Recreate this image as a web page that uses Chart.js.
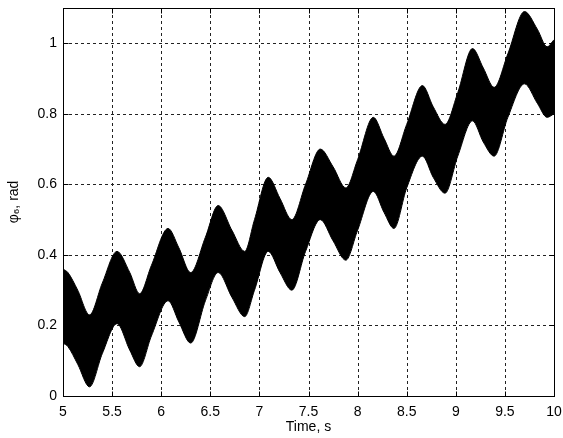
<!DOCTYPE html>
<html>
<head>
<meta charset="utf-8">
<script src="https://cdn.jsdelivr.net/npm/chart.js@4/dist/chart.umd.min.js"></script>
<style>
  html, body { margin: 0; padding: 0; background: #fff; }
  #wrap { width: 563px; height: 438px; }
</style>
</head>
<body>
<div id="wrap"><canvas id="c" width="563" height="438"></canvas></div>
<script>
// Time axis samples (s) where the band envelope was read
const time = [5.00,5.05,5.15,5.27,5.40,5.55,5.68,5.78,5.90,6.07,
              6.18,6.30,6.45,6.58,6.72,6.85,6.95,7.09,7.21,7.33,
              7.47,7.62,7.75,7.88,8.00,8.16,8.27,8.37,8.50,8.66,
              8.77,8.89,9.02,9.17,9.28,9.39,9.53,9.70,9.83,9.93,10.00];
// Upper envelope of the oscillating phi6 signal (rad)
const upperEnv = [0.36,0.35,0.30,0.23,0.32,0.41,0.35,0.29,0.37,0.475,
                  0.42,0.35,0.45,0.54,0.47,0.41,0.50,0.62,0.56,0.50,
                  0.60,0.70,0.65,0.59,0.67,0.79,0.73,0.68,0.77,0.88,
                  0.82,0.77,0.86,0.985,0.93,0.875,0.97,1.09,1.04,0.99,1.01];
// Lower envelope of the oscillating phi6 signal (rad)
const lowerEnv = [0.15,0.14,0.09,0.026,0.12,0.205,0.13,0.083,0.17,0.27,
                  0.21,0.15,0.27,0.35,0.28,0.225,0.30,0.41,0.35,0.30,
                  0.41,0.50,0.44,0.385,0.47,0.58,0.52,0.475,0.59,0.68,
                  0.62,0.575,0.68,0.78,0.72,0.68,0.79,0.885,0.83,0.79,0.80];
const xTicks = [5,5.5,6,6.5,7,7.5,8,8.5,9,9.5,10];
const yTicks = [0,0.2,0.4,0.6,0.8,1];
const xTitle = 'Time, s';
const yTitle = '\u03C6\u2086, rad';

const FONT = 'Arial, "Liberation Sans", Helvetica, sans-serif';

const matlabAxes = {
  id: 'matlabAxes',
  beforeDatasetsDraw(chart) {
    const {ctx, chartArea: a, scales: {x, y}} = chart;
    ctx.save();
    ctx.strokeStyle = '#222';
    ctx.lineWidth = 1;
    ctx.setLineDash([3, 3]);
    x.ticks.forEach(t => {
      const px = Math.round(x.getPixelForValue(t.value)) + 0.5;
      if (px <= a.left + 1 || px >= a.right - 1) return;
      ctx.beginPath(); ctx.moveTo(px, a.bottom); ctx.lineTo(px, a.top); ctx.stroke();
    });
    y.ticks.forEach(t => {
      const py = Math.round(y.getPixelForValue(t.value)) + 0.5;
      if (py <= a.top + 1 || py >= a.bottom - 1) return;
      ctx.beginPath(); ctx.moveTo(a.left, py); ctx.lineTo(a.right, py); ctx.stroke();
    });
    ctx.restore();
  },
  afterDatasetsDraw(chart) {
    const {ctx, chartArea: a, scales: {x, y}} = chart;
    ctx.save();
    ctx.strokeStyle = '#000';
    ctx.lineWidth = 1;
    ctx.setLineDash([]);
    const L = Math.round(a.left) + 0.5, R = Math.round(a.right) + 0.5;
    const T = Math.round(a.top) + 0.5, B = Math.round(a.bottom) + 0.5;
    ctx.strokeRect(L, T, R - L, B - T);
    const tl = 5;
    ctx.beginPath();
    x.ticks.forEach(t => {
      const px = Math.round(x.getPixelForValue(t.value)) + 0.5;
      ctx.moveTo(px, B); ctx.lineTo(px, B - tl);
      ctx.moveTo(px, T); ctx.lineTo(px, T + tl);
    });
    y.ticks.forEach(t => {
      const py = Math.round(y.getPixelForValue(t.value)) + 0.5;
      ctx.moveTo(L, py); ctx.lineTo(L + tl, py);
      ctx.moveTo(R, py); ctx.lineTo(R - tl, py);
    });
    ctx.stroke();
    ctx.restore();
  }
};

const upperPts = time.map((t, i) => ({x: t, y: upperEnv[i]}));
const lowerPts = time.map((t, i) => ({x: t, y: lowerEnv[i]}));

new Chart(document.getElementById('c'), {
  type: 'line',
  data: {
    datasets: [
      { data: upperPts, borderColor: '#000', backgroundColor: '#000', borderWidth: 1,
        pointRadius: 0, fill: '+1', cubicInterpolationMode: 'monotone' },
      { data: lowerPts, borderColor: '#000', backgroundColor: '#000', borderWidth: 1,
        pointRadius: 0, fill: false, cubicInterpolationMode: 'monotone' }
    ]
  },
  options: {
    responsive: false,
    animation: false,
    devicePixelRatio: 1,
    layout: { padding: { left: 0, right: 9, top: 8, bottom: 0 } },
    plugins: { legend: { display: false }, tooltip: { enabled: false } },
    scales: {
      x: {
        type: 'linear', min: 5, max: 10,
        afterBuildTicks: s => { s.ticks = xTicks.map(v => ({value: v})); },
        afterFit: s => { s.height = 42; s.paddingLeft = 0; s.paddingRight = 0; },
        grid: { display: false, drawTicks: false },
        border: { display: false },
        ticks: { color: '#000', padding: 8, maxRotation: 0, autoSkip: false,
                 font: { family: FONT, size: 14 },
                 callback: v => String(v) },
        title: { display: true, text: xTitle, color: '#000',
                 font: { family: FONT, size: 14 }, padding: { top: 0, bottom: 2 } }
      },
      y: {
        type: 'linear', min: 0, max: 1.1,
        afterBuildTicks: s => { s.ticks = yTicks.map(v => ({value: v})); },
        afterFit: s => { s.width = 63; s.paddingTop = 0; s.paddingBottom = 0; },
        grid: { display: false, drawTicks: false },
        border: { display: false },
        ticks: { color: '#000', padding: 6, autoSkip: false,
                 font: { family: FONT, size: 14 },
                 callback: v => String(v) },
        title: { display: true, text: yTitle, color: '#000',
                 font: { family: FONT, size: 14 }, padding: { top: 6, bottom: 0 } }
      }
    }
  },
  plugins: [matlabAxes]
});
</script>
</body>
</html>
